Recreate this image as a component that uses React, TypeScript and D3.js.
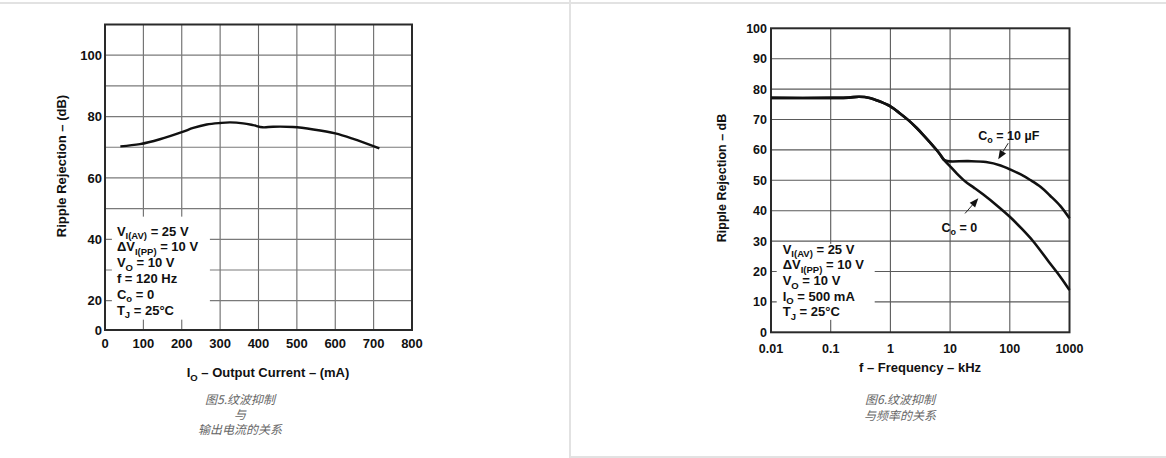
import React from "react";
import * as d3 from "d3";

// ---------- Data: Figure 5 (ripple rejection vs output current) ----------
const currentTicks = [0, 100, 200, 300, 400, 500, 600, 700, 800];
const currentGrid = [100, 200, 300, 400, 500, 600, 700];
const leftRejTicks = [0, 20, 40, 60, 80, 100];
const leftRejGrid = [20, 30, 40, 50, 60, 70, 80, 90, 100];
const ioCurve: [number, number][] = [
  [40, 70.3], [91, 71.0], [143, 72.6], [202, 75.0], [230, 76.3], [265, 77.4],
  [300, 77.9], [326, 78.1], [360, 77.8], [386, 77.2], [411, 76.5], [438, 76.7],
  [490, 76.6], [543, 75.8], [600, 74.5], [647, 72.7], [715, 69.6],
];
const leftNotes: [string, string, string][] = [
  ["V", "I(AV)", " = 25 V"],
  ["\u0394V", "I(PP)", " = 10 V"],
  ["V", "O", " = 10 V"],
  ["f = 120 Hz", "", ""],
  ["C", "o", " = 0"],
  ["T", "J", " = 25\u00B0C"],
];
const leftXTitle: [string, string, string] = ["I", "O", " \u2013 Output Current \u2013 (mA)"];
const leftYTitle = "Ripple Rejection \u2013 (dB)";
const leftCaption = ["\u56FE5.\u7EB9\u6CE2\u6291\u5236", "\u4E0E", "\u8F93\u51FA\u7535\u6D41\u7684\u5173\u7CFB"];

// ---------- Data: Figure 6 (ripple rejection vs frequency) ----------
const freqTicks = [0.01, 0.1, 1, 10, 100, 1000];
const freqTickLabels = ["0.01", "0.1", "1", "10", "100", "1000"];
const rightRejTicks = [0, 10, 20, 30, 40, 50, 60, 70, 80, 90, 100];
const curveCo10uF: [number, number][] = [
  [0.01, 77.1], [0.1, 77.1], [0.2, 77.2], [0.3, 77.5], [0.45, 77.1], [0.67, 75.9],
  [1.0, 74.3], [1.45, 72.0], [2.0, 69.8], [2.76, 67.2], [3.6, 64.8], [4.6, 62.5],
  [5.8, 60.2], [6.8, 58.5], [7.8, 56.8], [9.0, 56.3], [20, 56.3], [40, 56.0],
  [70, 54.9], [100, 53.6], [150, 52.0], [220, 50.1], [330, 47.8], [470, 45.0],
  [700, 41.6], [1000, 37.5],
];
const curveCo0: [number, number][] = [
  [0.01, 77.1], [0.1, 77.1], [0.2, 77.2], [0.3, 77.5], [0.45, 77.1], [0.67, 75.9],
  [1.0, 74.3], [1.45, 72.0], [2.0, 69.8], [2.76, 67.2], [3.6, 64.8], [4.6, 62.5],
  [5.8, 60.2], [6.8, 58.5], [8.0, 56.6], [10, 54.6], [13, 52.2], [18, 49.6],
  [25, 47.6], [36, 45.3], [60, 41.8], [100, 38.0], [160, 34.0], [250, 29.8],
  [470, 22.7], [700, 18.3], [1000, 13.9],
];
const rightNotes: [string, string, string][] = [
  ["V", "I(AV)", " = 25 V"],
  ["\u0394V", "I(PP)", " = 10 V"],
  ["V", "O", " = 10 V"],
  ["I", "O", " = 500 mA"],
  ["T", "J", " = 25\u00B0C"],
];
const label10uF: [string, string, string] = ["C", "o", " = 10 \u00B5F"];
const label0: [string, string, string] = ["C", "o", " = 0"];
const rightXTitle = "f \u2013 Frequency \u2013 kHz";
const rightYTitle = "Ripple Rejection \u2013 dB";
const rightCaption = ["\u56FE6.\u7EB9\u6CE2\u6291\u5236", "\u4E0E\u9891\u7387\u7684\u5173\u7CFB"];

const FONT = "'Liberation Sans', Arial, Helvetica, sans-serif";
const CJK = "'Noto Sans CJK SC', 'Noto Sans', sans-serif";

function SubText({ x, y, parts, size = 13, subSize = 9.5, anchor = "start" }: any) {
  const [a, s, b] = parts;
  return (
    <text x={x} y={y} fontFamily={FONT} fontWeight="bold" fontSize={size} fill="#111" textAnchor={anchor}>
      <tspan>{a}</tspan>
      {s ? <tspan dy={3.5} fontSize={subSize}>{s}</tspan> : null}
      {b ? <tspan dy={s ? -3.5 : 0}>{b}</tspan> : null}
    </text>
  );
}

function Arrow({ x1, y1, x2, y2 }: any) {
  const ang = Math.atan2(y2 - y1, x2 - x1);
  const L = 9, W = 3.6;
  const bx = x2 - L * Math.cos(ang), by = y2 - L * Math.sin(ang);
  const px = -Math.sin(ang) * W, py = Math.cos(ang) * W;
  return (
    <g>
      <line x1={x1} y1={y1} x2={bx} y2={by} stroke="#222" strokeWidth={1} />
      <path d={`M${x2},${y2}L${bx + px},${by + py}L${bx - px},${by - py}Z`} fill="#111" />
    </g>
  );
}

function LeftChart() {
  const x = d3.scaleLinear().domain([0, 800]).range([105, 412]);
  const y = d3.scaleLinear().domain([0, 20, 110]).range([330, 300.7, 24.5]);
  const line = d3.line<[number, number]>().x(d => x(d[0])).y(d => y(d[1])).curve(d3.curveCatmullRom.alpha(0.5));
  const ax = x(31), ay = y(41.2);
  return (
    <g>
      {currentGrid.map(v => (
        <line key={"vx" + v} x1={x(v)} x2={x(v)} y1={y(110)} y2={y(0)} stroke="#6a6a6a" strokeWidth={1.1} />
      ))}
      {leftRejGrid.map(v => (
        <line key={"hy" + v} x1={x(0)} x2={x(800)} y1={y(v)} y2={y(v)} stroke="#7a7a7a" strokeWidth={1.2} />
      ))}
      <rect x={ax - 5} y={ay - 19} width={98} height={103} fill="#fff" />
      <rect x={x(0)} y={y(110)} width={x(800) - x(0)} height={y(0) - y(110)} fill="none" stroke="#2a2a2a" strokeWidth={2} />
      <path d={line(ioCurve) || ""} fill="none" stroke="#111" strokeWidth={2.4} />
      {leftRejTicks.map(v => (
        <text key={"ly" + v} x={x(0) - 3} y={y(v)} dy="0.36em" textAnchor="end" fontFamily={FONT} fontWeight="bold" fontSize={13} fill="#111">{v}</text>
      ))}
      {currentTicks.map(v => (
        <text key={"lx" + v} x={x(v)} y={348} textAnchor="middle" fontFamily={FONT} fontWeight="bold" fontSize={13} fill="#111">{v}</text>
      ))}
      {leftNotes.map((p, i) => (
        <SubText key={"ln" + i} x={ax} y={ay + i * 15.8} parts={p} />
      ))}
      <SubText x={268} y={377} parts={leftXTitle} anchor="middle" />
      <text transform="translate(66,166) rotate(-90)" textAnchor="middle" fontFamily={FONT} fontWeight="bold" fontSize={13} fill="#111">{leftYTitle}</text>
      {leftCaption.map((t, i) => (
        <text key={"lc" + i} x={240} y={404 + i * 15} textAnchor="middle" fontFamily={CJK} fontStyle="italic" fontSize={12} fill="#666">{t}</text>
      ))}
    </g>
  );
}

function RightChart() {
  const x = d3.scaleLog().domain([0.01, 1000]).range([771, 1069.5]);
  const y = d3.scaleLinear().domain([0, 100]).range([332.3, 28.3]);
  const line = d3.line<[number, number]>().x(d => x(d[0])).y(d => y(d[1])).curve(d3.curveCatmullRom.alpha(0.5));
  const ax = x(0.0157), ay = y(25.8);
  return (
    <g>
      {freqTicks.slice(1, -1).map(v => (
        <line key={"rvx" + v} x1={x(v)} x2={x(v)} y1={y(100)} y2={y(0)} stroke="#5a5a5a" strokeWidth={1.1} />
      ))}
      {rightRejTicks.slice(1, -1).map(v => (
        <line key={"rhy" + v} x1={x(0.01)} x2={x(1000)} y1={y(v)} y2={y(v)} stroke="#5a5a5a" strokeWidth={1.1} />
      ))}
      <rect x={ax - 6} y={ay - 10} width={98} height={76} fill="#fff" />
      <rect x={x(0.01)} y={y(100)} width={x(1000) - x(0.01)} height={y(0) - y(100)} fill="none" stroke="#2a2a2a" strokeWidth={2} />
      <path d={line(curveCo0) || ""} fill="none" stroke="#111" strokeWidth={2.6} />
      <path d={line(curveCo10uF) || ""} fill="none" stroke="#111" strokeWidth={2.6} />
      {rightRejTicks.map(v => (
        <text key={"ry" + v} x={x(0.01) - 4} y={y(v)} dy="0.36em" textAnchor="end" fontFamily={FONT} fontWeight="bold" fontSize={12.5} fill="#111">{v}</text>
      ))}
      {freqTicks.map((v, i) => (
        <text key={"rx" + v} x={x(v)} y={353} textAnchor="middle" fontFamily={FONT} fontWeight="bold" fontSize={12.5} fill="#111">{freqTickLabels[i]}</text>
      ))}
      {rightNotes.map((p, i) => (
        <SubText key={"rn" + i} x={ax} y={ay + i * 15.6} parts={p} />
      ))}
      <SubText x={x(29.7)} y={y(63.3)} parts={label10uF} size={12.5} subSize={9} />
      <Arrow x1={x(94)} y1={y(62.2)} x2={x(64)} y2={y(56.9)} />
      <SubText x={x(7.2)} y={y(33)} parts={label0} size={12.5} subSize={9} />
      <Arrow x1={x(17.8)} y1={y(39.1)} x2={x(29.7)} y2={y(44.1)} />
      <text x={920} y={372} textAnchor="middle" fontFamily={FONT} fontWeight="bold" fontSize={13} fill="#111">{rightXTitle}</text>
      <text transform="translate(726,178) rotate(-90)" textAnchor="middle" fontFamily={FONT} fontWeight="bold" fontSize={12.5} fill="#111">{rightYTitle}</text>
      {rightCaption.map((t, i) => (
        <text key={"rc" + i} x={900} y={404 + i * 16} textAnchor="middle" fontFamily={CJK} fontStyle="italic" fontSize={12} fill="#666">{t}</text>
      ))}
    </g>
  );
}

export default function App() {
  return (
    <div style={{ position: "absolute", left: 0, top: 0, width: 1166, height: 458, background: "#fff" }}>
      <svg width={1166} height={458} style={{ display: "block" }}>
        <rect x={0} y={0} width={1166} height={458} fill="#fff" />
        <line x1={0} x2={1166} y1={3} y2={3} stroke="#e2e2e2" strokeWidth={2} />
        <line x1={570} x2={570} y1={0} y2={458} stroke="#e2e2e2" strokeWidth={2} />
        <line x1={570} x2={1166} y1={457} y2={457} stroke="#e2e2e2" strokeWidth={2} />
        <LeftChart />
        <RightChart />
      </svg>
    </div>
  );
}
